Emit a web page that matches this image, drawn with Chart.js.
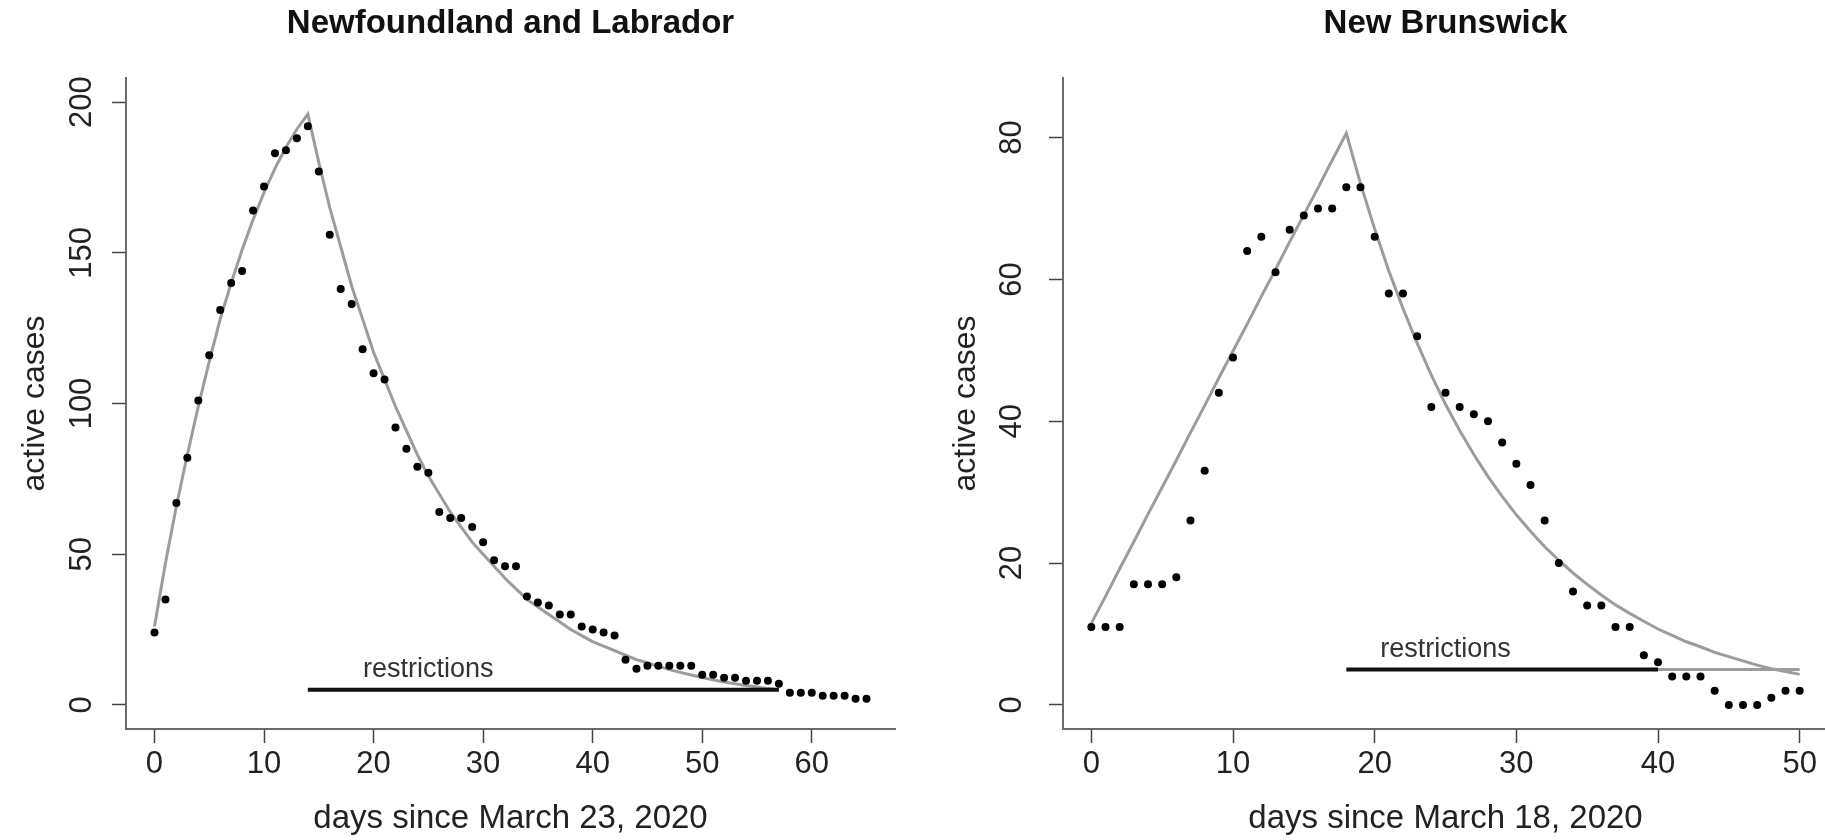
<!DOCTYPE html>
<html>
<head>
<meta charset="utf-8">
<script src="https://cdn.jsdelivr.net/npm/chart.js@4.4.1/dist/chart.umd.min.js"></script>
<style>
    html, body { margin: 0; padding: 0; background: #fff; overflow: hidden; width: 1825px; height: 840px; }
    #chartNL { position: absolute; left: 0; top: 0; }
    #chartNB { position: absolute; left: 912px; top: 0; }
</style>
</head>
<body>
<canvas id="chartNL" width="912" height="840"></canvas>
<canvas id="chartNB" width="920" height="840"></canvas>
<script>
// Newfoundland and Labrador: active cases by day (day = index)
const nlTitle = 'Newfoundland and Labrador';
const nlXLabel = 'days since March 23, 2020';
const nlCases = [24, 35, 67, 82, 101, 116, 131, 140, 144, 164,
    172, 183, 184, 188, 192, 177, 156, 138, 133, 118,
    110, 108, 92, 85, 79, 77, 64, 62, 62, 59,
    54, 48, 46, 46, 36, 34, 33, 30, 30, 26,
    25, 24, 23, 15, 12, 13, 13, 13, 13, 13,
    10, 10, 9, 9, 8, 8, 8, 7, 4, 4,
    4, 3, 3, 3, 2, 2];
// fitted curve, days 0..57
const nlModel = [26, 47, 66, 83, 99, 114, 128, 140, 151, 161,
    170, 178, 185, 191, 196, 180, 165, 152, 139, 128,
    117, 108, 99, 91, 83, 76, 70, 64, 59, 54,
    50, 46, 42, 38.5, 35, 32.5, 30, 27.5, 25, 23,
    21, 19.5, 18, 16.5, 15, 14, 12.8, 11.7, 10.8, 9.9,
    9.1, 8.3, 7.6, 7, 6.4, 5.9, 5.4, 5];
const nlRestrict = [14, 57];
const nlLastDay = 57;
const nlXTicks = [0, 10, 20, 30, 40, 50, 60];
const nlYTicks = [0, 50, 100, 150, 200];

// New Brunswick
const nbTitle = 'New Brunswick';
const nbXLabel = 'days since March 18, 2020';
const nbCases = [11, 11, 11, 17, 17, 17, 18, 26, 33, 44,
    49, 64, 66, 61, 67, 69, 70, 70, 73, 73,
    66, 58, 58, 52, 42, 44, 42, 41, 40, 37,
    34, 31, 26, 20, 16, 14, 14, 11, 11, 7,
    6, 4, 4, 4, 2, 0, 0, 0, 1, 2,
    2];
const nbModel = [11.5, 15.3, 19.2, 23, 26.9, 30.7, 34.5, 38.4, 42.2, 46.1,
    49.9, 53.7, 57.6, 61.4, 65.3, 69.1, 72.9, 76.8, 80.6, 73.5,
    67.1, 61.2, 55.9, 51, 46.5, 42.4, 38.7, 35.3, 32.2, 29.4,
    26.8, 24.5, 22.3, 20.4, 18.6, 17, 15.5, 14.1, 12.9, 11.8,
    10.7, 9.8, 8.9, 8.2, 7.4, 6.8, 6.2, 5.6, 5.1, 4.7,
    4.3];
const nbRestrict = [18, 40];
const nbLastDay = 50;
const nbXTicks = [0, 10, 20, 30, 40, 50];
const nbYTicks = [0, 20, 40, 60, 80];

const yLabel = 'active cases';
const restrictText = 'restrictions';
const restrictLevel = 5;
const restrictLabelDay = 25;

const FONT = '"Liberation Sans", Arial, Helvetica, sans-serif';
const GRIS = '#9c9c9c';

const restrictLabel = {
    id: 'restrictLabel',
    afterDatasetsDraw(chart) {
        const { ctx, scales: { x, y } } = chart;
        ctx.save();
        ctx.font = '27px ' + FONT;
        ctx.fillStyle = '#333';
        ctx.textAlign = 'center';
        ctx.textBaseline = 'middle';
        ctx.fillText(restrictText, x.getPixelForValue(restrictLabelDay), y.getPixelForValue(restrictLevel) - 20);
        ctx.restore();
    }
};

function crearGrafica(id, o) {
    const puntos = o.cases.map((v, i) => ({ x: i, y: v }));
    const curva = o.model.map((v, i) => ({ x: i, y: v }));
    const datasets = [
        { type: 'scatter', data: puntos, pointRadius: 4, pointHoverRadius: 4,
          pointBackgroundColor: '#000', pointBorderWidth: 0, order: 0 },
        { type: 'line', data: [{ x: o.restrict[0], y: restrictLevel }, { x: o.restrict[1], y: restrictLevel }],
          borderColor: '#111', borderWidth: 4, pointRadius: 0, order: 1 },
        { type: 'line', data: curva, borderColor: GRIS, borderWidth: 3, pointRadius: 0, tension: 0, order: 2 }
    ];
    if (o.last > o.restrict[1]) {
        datasets.push({ type: 'line', data: [{ x: o.restrict[1], y: restrictLevel }, { x: o.last, y: restrictLevel }],
            borderColor: GRIS, borderWidth: 3, pointRadius: 0, order: 2 });
    }
    return new Chart(document.getElementById(id), {
        type: 'scatter',
        data: { datasets },
        options: {
            responsive: false,
            animation: false,
            events: [],
            devicePixelRatio: 1,
            layout: { padding: { left: 0, right: o.padRight, top: 0, bottom: 0 } },
            plugins: {
                legend: { display: false },
                tooltip: { enabled: false },
                title: {
                    display: true, text: o.title, fullSize: false, color: '#111',
                    font: { family: FONT, size: 33, weight: 'bold' },
                    padding: { top: 4, bottom: 34.4 }
                }
            },
            scales: {
                x: {
                    type: 'linear', min: o.xMin, max: o.xMax,
                    afterBuildTicks: s => { s.ticks = o.xTicks.map(v => ({ value: v })); },
                    afterFit: s => { s.height = 111; },
                    ticks: { font: { family: FONT, size: 31 }, color: '#222', padding: 3, maxRotation: 0, autoSkip: false },
                    grid: { drawOnChartArea: false, drawTicks: true, tickLength: 14, tickColor: '#444', tickWidth: 1.5 },
                    border: { display: true, color: '#6a6a6a', width: 2 },
                    title: { display: true, text: o.xLabel, color: '#222', font: { family: FONT, size: 33 }, padding: { top: 0, bottom: 1 } }
                },
                y: {
                    type: 'linear', min: o.yMin, max: o.yMax,
                    afterBuildTicks: s => { s.ticks = o.yTicks.map(v => ({ value: v })); },
                    afterFit: s => { s.width = o.yWidth; },
                    ticks: { font: { family: FONT, size: 31 }, color: '#222', padding: o.yPad, minRotation: 90, maxRotation: 90, crossAlign: 'center', autoSkip: false },
                    grid: { drawOnChartArea: false, drawTicks: true, tickLength: 14, tickColor: '#444', tickWidth: 1.5 },
                    border: { display: true, color: '#6a6a6a', width: 2 },
                    title: { display: true, text: yLabel, color: '#222', font: { family: FONT, size: 32 }, padding: { top: o.yTitlePad, bottom: 0 } }
                }
            }
        },
        plugins: [restrictLabel]
    });
}

crearGrafica('chartNL', {
    title: nlTitle, xLabel: nlXLabel, cases: nlCases, model: nlModel,
    restrict: nlRestrict, last: nlLastDay, xTicks: nlXTicks, yTicks: nlYTicks,
    xMin: -2.6, xMax: 67.6, yMin: -8, yMax: 208,
    yWidth: 126, padRight: 17, yPad: 4, yTitlePad: 16
});

crearGrafica('chartNB', {
    title: nbTitle, xLabel: nbXLabel, cases: nbCases, model: nbModel,
    restrict: nbRestrict, last: nbLastDay, xTicks: nbXTicks, yTicks: nbYTicks,
    xMin: -2, xMax: 52, yMin: -3.4, yMax: 88.4,
    yWidth: 151, padRight: 0, yPad: 19, yTitlePad: 35
});
</script>
</body>
</html>
